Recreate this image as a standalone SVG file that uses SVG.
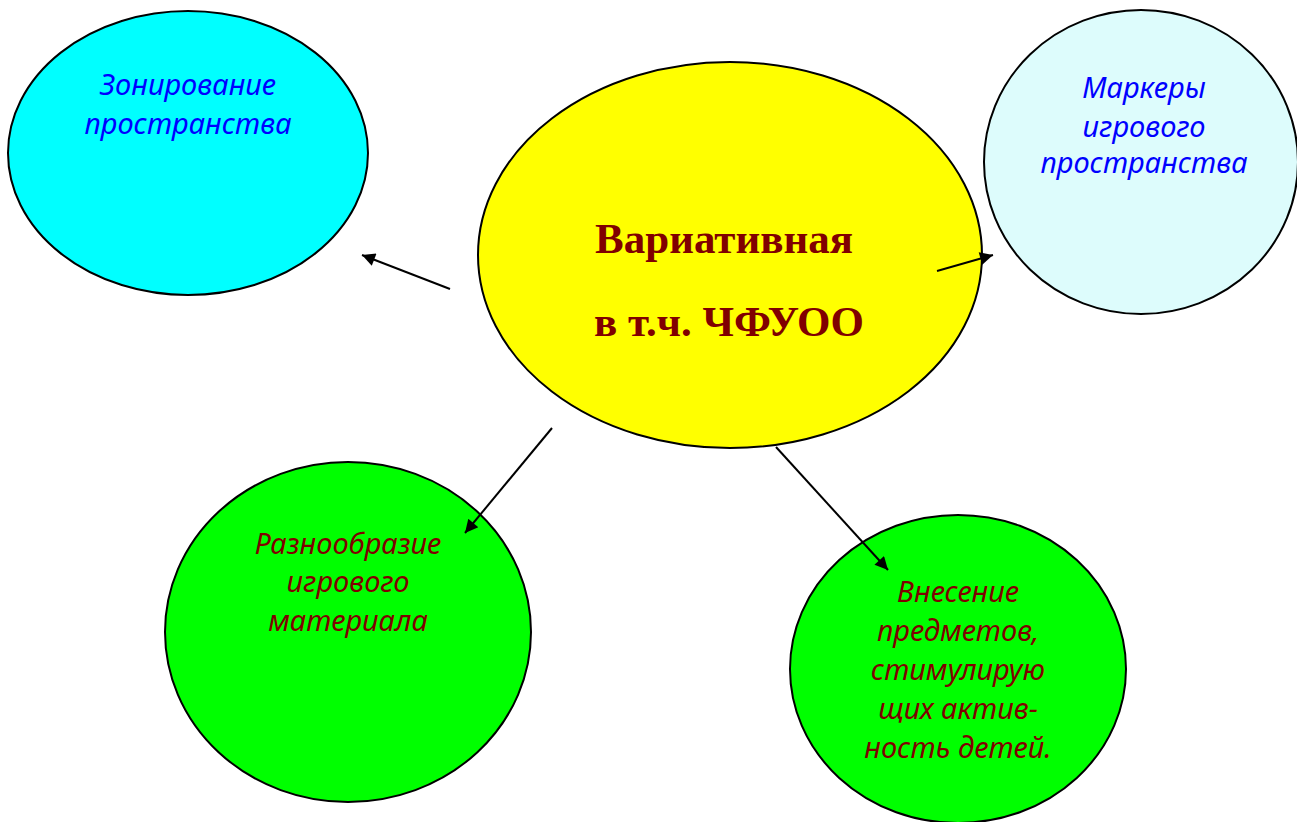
<svg xmlns="http://www.w3.org/2000/svg" width="1297" height="822" viewBox="0 0 1297 822">
<defs>
<style>
.n{stroke:#000;stroke-width:2}
.t{font-family:"Noto Sans","Open Sans",sans-serif;font-style:italic;font-size:29px;text-anchor:middle}
.b{fill:#0000ff}
.r{fill:#800000}
.c{font-family:"Liberation Serif","Times New Roman",serif;font-weight:bold;font-size:43px;fill:#800000;text-anchor:middle}
.e{stroke:#000;stroke-width:2;fill:none;marker-end:url(#ah)}
</style>
<marker id="ah" viewBox="0 0 10 10" refX="10" refY="5" markerWidth="16" markerHeight="13" markerUnits="userSpaceOnUse" orient="auto">
<path d="M0,0 L10,5 L0,10 Z" fill="#000"/>
</marker>
</defs>
<rect width="1297" height="822" fill="#fff"/>
<g id="zon">
<ellipse class="n" cx="188" cy="153" rx="180" ry="142" fill="#00ffff"/>
<text class="t b" x="188" y="95">Зонирование</text>
<text class="t b" x="188" y="134">пространства</text>
</g>
<g id="mark">
<ellipse class="n" cx="1141" cy="162" rx="157" ry="152" fill="#ddfcfc"/>
<text class="t b" x="1144" y="98">Маркеры</text>
<text class="t b" x="1144" y="137">игрового</text>
<text class="t b" x="1144" y="173">пространства</text>
</g>
<g id="center">
<ellipse class="n" cx="730" cy="255" rx="252" ry="193" fill="#ffff00"/>
<text class="c" x="724" y="253">Вариативная</text>
<text class="c" x="729" y="336">в т.ч. ЧФУОО</text>
</g>
<g id="razn">
<ellipse class="n" cx="348" cy="632" rx="183" ry="170" fill="#00ff00"/>
<text class="t r" x="348" y="554">Разнообразие</text>
<text class="t r" x="348" y="592">игрового</text>
<text class="t r" x="348" y="631">материала</text>
</g>
<g id="vnes">
<ellipse class="n" cx="958" cy="669" rx="168" ry="154" fill="#00ff00"/>
<text class="t r" x="958" y="602">Внесение</text>
<text class="t r" x="958" y="641">предметов,</text>
<text class="t r" x="958" y="680">стимулирую</text>
<text class="t r" x="958" y="719">щих актив-</text>
<text class="t r" x="958" y="758">ность детей.</text>
</g>
<g id="connectors">
<line class="e" x1="450" y1="289" x2="362" y2="255"/>
<line class="e" x1="937" y1="271" x2="993" y2="255"/>
<line class="e" x1="552" y1="428" x2="465" y2="533"/>
<line class="e" x1="776" y1="447" x2="888" y2="570"/>
</g>
</svg>
